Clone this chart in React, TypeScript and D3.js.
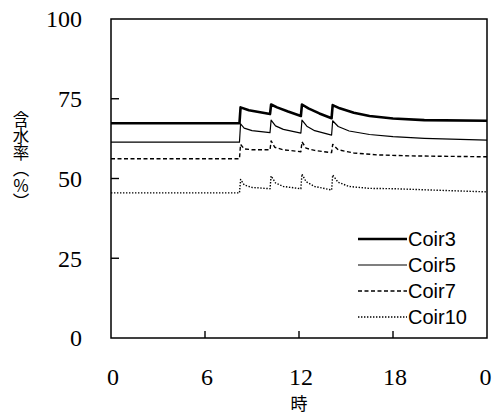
import React from "react";
import * as d3 from "d3";

const hoursTicks = [0, 6, 12, 18, 24];
const hourTickLabels = ["0", "6", "12", "18", "0"];
const valueTicks = [0, 25, 50, 75, 100];

const seriesNames = ["Coir3", "Coir5", "Coir7", "Coir10"];

const coir3: [number, number][] = [
  [0, 67.3], [8.2, 67.3], [8.27, 72.3], [8.8, 71.4], [10.15, 70.2],
  [10.22, 73.2], [10.6, 72.3], [11.3, 71.0], [12.12, 69.6],
  [12.19, 73.2], [12.6, 72.0], [13.3, 70.4], [14.08, 68.9],
  [14.15, 73.0], [14.6, 72.0], [15.5, 70.6], [16.5, 69.6], [18, 68.8], [20, 68.3], [24, 68.1],
];
const coir5: [number, number][] = [
  [0, 61.4], [8.2, 61.4], [8.27, 67.1], [8.5, 65.8], [9.0, 65.0], [10.15, 64.4],
  [10.22, 68.3], [10.5, 66.5], [11.0, 65.4], [12.12, 64.2],
  [12.19, 68.3], [12.5, 66.4], [13.0, 65.0], [14.08, 63.6],
  [14.15, 68.1], [14.5, 66.3], [15.2, 64.9], [16.5, 63.8], [18, 63.1], [20, 62.6], [24, 62.0],
];
const coir7: [number, number][] = [
  [0, 56.2], [8.2, 56.2], [8.27, 60.7], [8.5, 59.3], [9.0, 59.0], [10.15, 59.0],
  [10.22, 61.8], [10.45, 59.8], [11.0, 59.0], [12.12, 58.4],
  [12.19, 61.5], [12.45, 59.5], [13.0, 58.8], [14.08, 58.1],
  [14.15, 60.7], [14.5, 59.0], [15.5, 58.0], [17, 57.4], [19, 57.1], [24, 56.8],
];
const coir10: [number, number][] = [
  [0, 45.5], [8.2, 45.5], [8.27, 49.7], [8.5, 48.0], [9.0, 47.2], [10.15, 46.8],
  [10.22, 50.8], [10.5, 48.6], [11.0, 47.5], [12.12, 46.8],
  [12.19, 51.4], [12.45, 49.0], [13.0, 47.5], [14.08, 46.4],
  [14.15, 51.1], [14.5, 48.8], [15.2, 47.5], [16.5, 46.9], [18, 46.8], [21, 46.3], [24, 45.8],
];

const allSeries = [coir3, coir5, coir7, coir10];
const styles = [
  { w: 2.6, dash: "" },
  { w: 1.2, dash: "" },
  { w: 1.4, dash: "4,2.5" },
  { w: 1.4, dash: "1.4,1.6" },
];

export default function App() {
  const W = 492, H = 414;
  const L = 111, R = 487, T = 19, B = 338;
  const x = d3.scaleLinear().domain([0, 24]).range([L, R]);
  const y = d3.scaleLinear().domain([0, 100]).range([B, T]);
  const line = d3.line<[number, number]>().x(d => x(d[0])).y(d => y(d[1]));
  const serif = "'Liberation Serif', 'DejaVu Serif', serif";
  const sans = "'Liberation Sans', Arial, sans-serif";
  const cjk = "'Noto Sans CJK JP', sans-serif";
  const legY = [239, 265, 291, 317];
  return (
    <svg width={W} height={H} style={{ position: "absolute", left: 0, top: 0, background: "#fff" }}>
      <rect x={0} y={0} width={W} height={H} fill="#fff" />
      {allSeries.map((s, i) => (
        <path key={i} d={line(s) || ""} fill="none" stroke="#000" strokeWidth={styles[i].w}
          strokeDasharray={styles[i].dash} strokeLinejoin="round" />
      ))}
      <rect x={L} y={T} width={R - L} height={B - T} fill="none" stroke="#000" strokeWidth={1.5} />
      {valueTicks.filter(v => v > 0 && v < 100).map(v => (
        <line key={v} x1={L} x2={L + 8} y1={y(v)} y2={y(v)} stroke="#000" strokeWidth={1.4} />
      ))}
      {hoursTicks.filter(h => h > 0 && h < 24).map(h => (
        <line key={h} x1={x(h)} x2={x(h)} y1={B} y2={B - 7} stroke="#000" strokeWidth={1.4} />
      ))}
      {valueTicks.map(v => (
        <text key={v} x={82} y={y(v)} dy="0.35em" textAnchor="end" fontFamily={serif} fontSize={24}>{v}</text>
      ))}
      {hoursTicks.map((h, i) => (
        <text key={h} x={i === hoursTicks.length - 1 ? x(h) - 1.5 : x(h) + 2} y={385} textAnchor="middle"
          fontFamily={serif} fontSize={24}>{hourTickLabels[i]}</text>
      ))}
      <text x={x(12)} y={410} textAnchor="middle" fontFamily={cjk} fontSize={17}>時</text>
      <text x={21} y={111} fontFamily={cjk} fontSize={16.5}
        style={{ writingMode: "vertical-rl" }}>含水率（％）</text>
      {seriesNames.map((n, i) => (
        <g key={n}>
          <line x1={358} x2={407} y1={legY[i]} y2={legY[i]} stroke="#000" strokeWidth={styles[i].w}
            strokeDasharray={styles[i].dash} />
          <text x={408} y={legY[i]} dy="0.36em" fontFamily={sans} fontSize={20}>{n}</text>
        </g>
      ))}
    </svg>
  );
}
